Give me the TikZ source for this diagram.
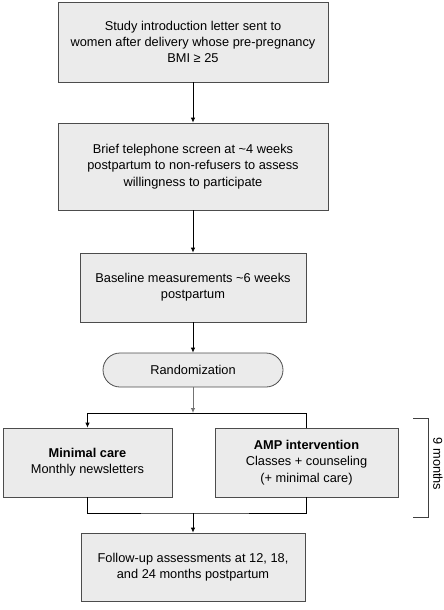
\documentclass[tikz,border=0pt]{standalone}
\usepackage{fontspec}
\setmainfont{Liberation Sans}
\usepackage{tikz}
\usetikzlibrary{shapes,arrows.meta}
\tikzstyle{caja}=[rectangle,draw=black!70,fill=black!8,line width=.8pt,align=center,inner sep=2pt,font=\fontsize{12.8}{16.2}\selectfont]
\tikzstyle{flecha}=[-{Latex[length=5pt,width=4.5pt]},line width=.8pt]
\tikzstyle{linea}=[line width=.8pt]

\begin{document}
\begin{tikzpicture}[x=1pt,y=1pt]
\useasboundingbox (0,0) rectangle (444,-610);
\node[caja,minimum width=270,minimum height=80] (carta)  at (193,-42) {Study introduction letter sent to\\women after delivery whose pre-pregnancy\\BMI ≥ 25};
\node[caja,minimum width=270,minimum height=87] (tel)    at (193,-166.5) {Brief telephone screen at \textasciitilde4 weeks\\postpartum to non-refusers to assess\\willingness to participate};
\node[caja,minimum width=226,minimum height=69] (base)   at (193,-287.5) {Baseline measurements \textasciitilde6 weeks\\postpartum};
\node[caja,rounded corners=17,minimum width=180,minimum height=34] (rand) at (193,-370) {Randomization};
\node[caja,minimum width=169,minimum height=69] (minima) at (87.5,-462.5) {\textbf{Minimal care}\\Monthly newsletters};
\node[caja,minimum width=183,minimum height=69] (amp)    at (306.5,-462.5) {\textbf{AMP intervention}\\Classes + counseling\\(+ minimal care)};
\node[caja,minimum width=224,minimum height=68] (segui)  at (193,-567) {Follow-up assessments at 12, 18,\\and 24 months postpartum};
\coordinate (rama)  at (193,-413);
\coordinate (junta) at (193,-513);
\draw[flecha] (carta) -- (tel);
\draw[flecha] (tel) -- (base);
\draw[flecha] (base) -- (rand);
\draw[flecha,black!55] (rand) -- (rama);
\draw[linea] (rama) -| (amp.north);
\draw[flecha] (rama) -| (minima.north);
\draw[linea] (minima.south) |- (junta) -| (amp.south);
\draw[flecha] (junta) -- (segui);
%\draw[linea] (minima.south) -- (amp.south);
\draw[line width=.8pt,black!75] (413,-418) -- (428,-418) -- (428,-517) -- (413,-517);
\node[rotate=-90,font=\fontsize{12.8}{14}\selectfont] (meses) at (438,-464) {9 months};
\end{tikzpicture}
\end{document}
